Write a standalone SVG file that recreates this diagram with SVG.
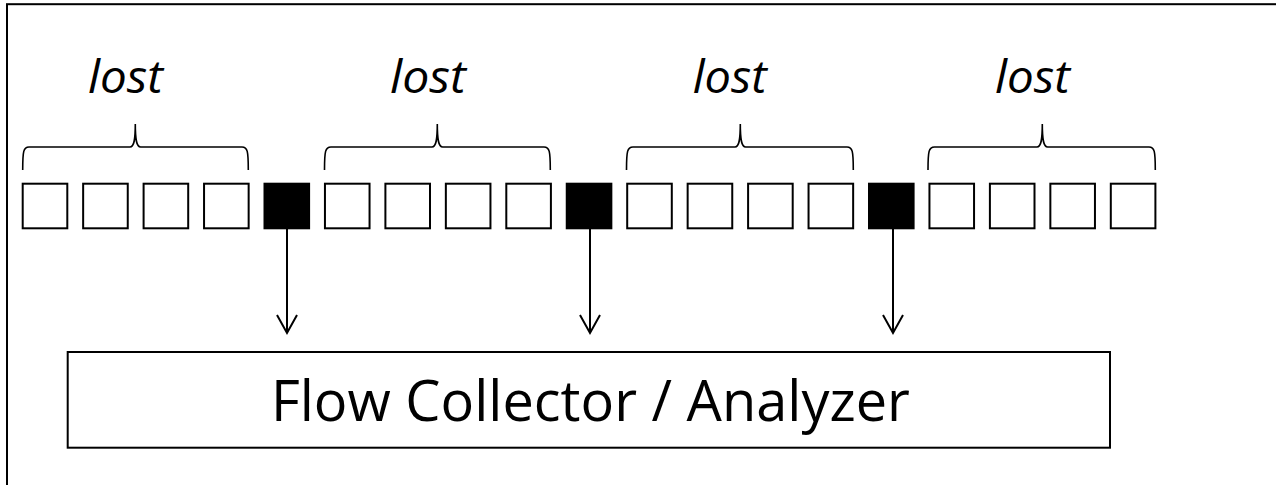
<svg xmlns="http://www.w3.org/2000/svg" width="1276" height="485" viewBox="0 0 1276 485">
  <defs>
    <style>
      .frame { fill: none; stroke: #000; stroke-width: 2; }
      .pkt { fill: #fff; stroke: #000; stroke-width: 2; }
      .pkt.sampled { fill: #000; }
      .brace { fill: none; stroke: #000; stroke-width: 1.6; }
      .lost { font-family: "Open Sans", "Noto Sans", sans-serif; font-style: italic; font-size: 46px; fill: #000; }
      .conn { fill: none; stroke: #000; stroke-width: 2; }
      .box { fill: #fff; stroke: #000; stroke-width: 2; }
      .boxlabel { font-family: "Open Sans", "Noto Sans", sans-serif; font-size: 57px; fill: #000; }
    </style>
    <marker id="arrow" viewBox="0 0 24 24" refX="20" refY="12" markerWidth="24" markerHeight="24" markerUnits="userSpaceOnUse" orient="auto">
      <path d="M2,2 L20,12 L2,22" fill="none" stroke="#000" stroke-width="2"/>
    </marker>
  </defs>
  <rect width="1276" height="485" fill="#fff"/>
  <rect class="frame" x="7" y="4.2" width="1320" height="600"/>

  <g id="braces">
    <path class="brace" d="M22.7,170 C22.7,151 23.5,147 29,147 L130,147 C134,147 135.3,140 135.3,124 C135.3,140 136.6,147 140.6,147 L242,147 C247.5,147 248.3,151 248.3,170"/>
    <path class="brace" d="M324.5,170 C324.5,151 325.3,147 331,147 L432,147 C436,147 437.3,140 437.3,124 C437.3,140 438.6,147 442.6,147 L544,147 C549.5,147 550.3,151 550.3,170"/>
    <path class="brace" d="M626.5,170 C626.5,151 627.3,147 633,147 L735,147 C739,147 740.3,140 740.3,124 C740.3,140 741.6,147 745.6,147 L847,147 C852.5,147 853.3,151 853.3,170"/>
    <path class="brace" d="M928,170 C928,151 928.8,147 934.5,147 L1037,147 C1041,147 1042.3,140 1042.3,124 C1042.3,140 1043.6,147 1047.6,147 L1149,147 C1154.5,147 1155.3,151 1155.3,170"/>
  </g>

  <g id="labels">
    <text class="lost" x="125.5" y="93" text-anchor="middle" textLength="75" lengthAdjust="spacingAndGlyphs">lost</text>
    <text class="lost" x="428" y="93" text-anchor="middle" textLength="76" lengthAdjust="spacingAndGlyphs">lost</text>
    <text class="lost" x="729.7" y="93" text-anchor="middle" textLength="74" lengthAdjust="spacingAndGlyphs">lost</text>
    <text class="lost" x="1032.5" y="93" text-anchor="middle" textLength="75" lengthAdjust="spacingAndGlyphs">lost</text>
  </g>

  <g id="packets">
    <rect class="pkt" x="22.7" y="183.7" width="44.6" height="44.6"/>
    <rect class="pkt" x="83.15" y="183.7" width="44.6" height="44.6"/>
    <rect class="pkt" x="143.6" y="183.7" width="44.6" height="44.6"/>
    <rect class="pkt" x="204.05" y="183.7" width="44.6" height="44.6"/>
    <rect id="sample1" class="pkt sampled" x="264.5" y="183.7" width="44.6" height="44.6"/>
    <rect class="pkt" x="324.95" y="183.7" width="44.6" height="44.6"/>
    <rect class="pkt" x="385.4" y="183.7" width="44.6" height="44.6"/>
    <rect class="pkt" x="445.85" y="183.7" width="44.6" height="44.6"/>
    <rect class="pkt" x="506.3" y="183.7" width="44.6" height="44.6"/>
    <rect id="sample2" class="pkt sampled" x="566.75" y="183.7" width="44.6" height="44.6"/>
    <rect class="pkt" x="627.2" y="183.7" width="44.6" height="44.6"/>
    <rect class="pkt" x="687.65" y="183.7" width="44.6" height="44.6"/>
    <rect class="pkt" x="748.1" y="183.7" width="44.6" height="44.6"/>
    <rect class="pkt" x="808.55" y="183.7" width="44.6" height="44.6"/>
    <rect id="sample3" class="pkt sampled" x="869" y="183.7" width="44.6" height="44.6"/>
    <rect class="pkt" x="929.45" y="183.7" width="44.6" height="44.6"/>
    <rect class="pkt" x="989.9" y="183.7" width="44.6" height="44.6"/>
    <rect class="pkt" x="1050.35" y="183.7" width="44.6" height="44.6"/>
    <rect class="pkt" x="1110.8" y="183.7" width="44.6" height="44.6"/>
  </g>

  <g id="connectors">
    <line class="conn" x1="287" y1="229" x2="287" y2="333" marker-end="url(#arrow)"/>
    <line class="conn" x1="590" y1="229" x2="590" y2="333" marker-end="url(#arrow)"/>
    <line class="conn" x1="893" y1="229" x2="893" y2="333" marker-end="url(#arrow)"/>
  </g>

  <g id="collector">
    <rect class="box" x="67.7" y="352" width="1042.3" height="95.7"/>
    <text class="boxlabel" x="590.4" y="420.5" text-anchor="middle" textLength="639" lengthAdjust="spacingAndGlyphs">Flow Collector / Analyzer</text>
  </g>
</svg>
